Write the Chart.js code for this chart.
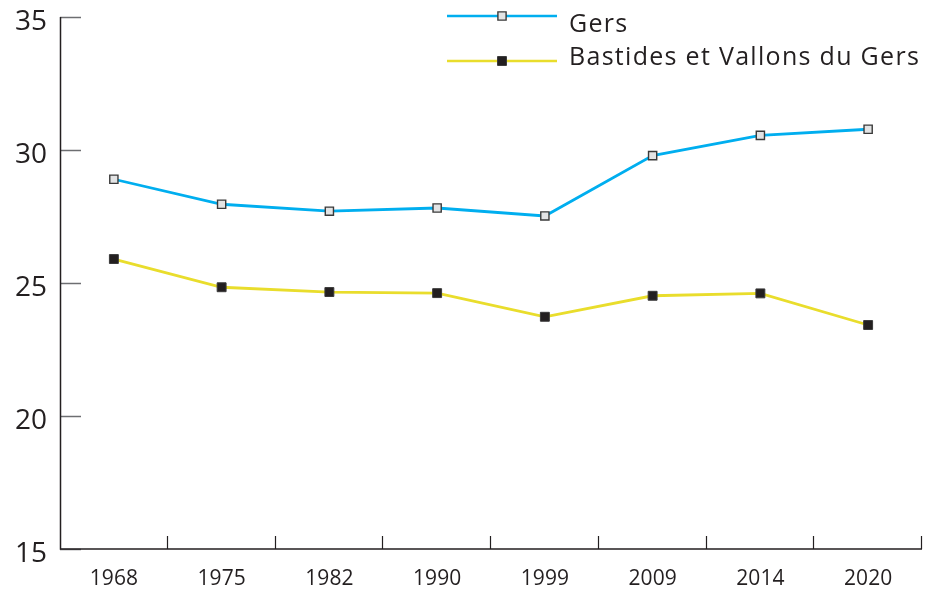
<!DOCTYPE html>
<html>
<head>
<meta charset="utf-8">
<script src="https://cdn.jsdelivr.net/npm/chart.js@4/dist/chart.umd.min.js"></script>
<style>
html,body{margin:0;padding:0;background:#fff;}
#wrap{width:934px;height:592px;position:relative;}
</style>
</head>
<body>
<div id="wrap"><canvas id="c" width="934" height="592"></canvas></div>
<script>
const years = ['1968','1975','1982','1990','1999','2009','2014','2020'];
const gers = [28.9, 27.96, 27.7, 27.82, 27.52, 29.79, 30.55, 30.78];
const bastides = [25.9, 24.84, 24.66, 24.62, 23.73, 24.52, 24.61, 23.42];
const seriesNames = ['Gers', 'Bastides et Vallons du Gers'];
const yTicks = [15, 20, 25, 30, 35];

const FONT = "'Open Sans', 'DejaVu Sans', sans-serif";
const AXIS = '#231f20';
const TICK = '#6d6e71';

const axesPlugin = {
  id: 'axesPlugin',
  beforeDatasetsDraw(chart) {
    const {ctx, chartArea: a, scales: {x, y}} = chart;
    ctx.save();
    ctx.strokeStyle = TICK; ctx.lineWidth = 1.5;
    yTicks.forEach(v => {
      const py = Math.round(y.getPixelForValue(v)) + 0.5;
      ctx.beginPath(); ctx.moveTo(a.left, py); ctx.lineTo(a.left + 21, py); ctx.stroke();
    });
    ctx.strokeStyle = AXIS; ctx.lineWidth = 1.2;
    const half = (x.getPixelForValue(1) - x.getPixelForValue(0)) / 2;
    for (let i = 0; i < years.length; i++) {
      const px = Math.round(x.getPixelForValue(i) + half) - 0.5;
      ctx.beginPath(); ctx.moveTo(px, a.bottom); ctx.lineTo(px, a.bottom - 13); ctx.stroke();
    }
    ctx.strokeStyle = AXIS; ctx.lineWidth = 1.5;
    ctx.beginPath();
    ctx.moveTo(a.left + 0.5, a.top);
    ctx.lineTo(a.left + 0.5, a.bottom);
    ctx.lineTo(a.right, a.bottom);
    ctx.stroke();
    ctx.restore();
  },
  afterDraw(chart) {
    const ctx = chart.ctx;
    ctx.save();
    const rows = [{ly: 16, tb: 32}, {ly: 61, tb: 65}];
    chart.data.datasets.forEach((ds, i) => {
      const r = rows[i];
      ctx.strokeStyle = ds.borderColor; ctx.lineWidth = 2.5;
      ctx.beginPath(); ctx.moveTo(447, r.ly); ctx.lineTo(557, r.ly); ctx.stroke();
      const s = Math.SQRT1_2 * ds.pointRadius;
      ctx.fillStyle = ds.pointBackgroundColor;
      ctx.strokeStyle = ds.pointBorderColor; ctx.lineWidth = ds.pointBorderWidth;
      ctx.beginPath(); ctx.rect(502 - s, r.ly - s, 2 * s, 2 * s); ctx.fill(); ctx.stroke();
      ctx.fillStyle = '#231f20';
      ctx.font = '25px ' + FONT;
      try { ctx.letterSpacing = '1.3px'; } catch (e) {}
      ctx.textBaseline = 'alphabetic'; ctx.textAlign = 'left';
      ctx.fillText(ds.label, 569, r.tb);
    });
    ctx.restore();
  }
};

new Chart(document.getElementById('c'), {
  type: 'line',
  data: {
    labels: years,
    datasets: [
      {
        label: seriesNames[0], data: gers,
        borderColor: '#00aeef', borderWidth: 2.8,
        pointStyle: 'rect', pointRadius: 5.8,
        pointBackgroundColor: '#e3e4e5', pointBorderColor: '#3a3a3a', pointBorderWidth: 1.4,
        tension: 0
      },
      {
        label: seriesNames[1], data: bastides,
        borderColor: '#e9dd2c', borderWidth: 2.8,
        pointStyle: 'rect', pointRadius: 6.3,
        pointBackgroundColor: '#231f20', pointBorderColor: '#3a3a3a', pointBorderWidth: 1,
        tension: 0
      }
    ]
  },
  options: {
    responsive: false, animation: false,
    layout: {padding: {top: 17, right: 12, left: 0, bottom: 0}},
    plugins: {legend: {display: false}, tooltip: {enabled: false}},
    scales: {
      x: {
        type: 'category', offset: true,
        grid: {display: false, drawTicks: false},
        border: {display: false},
        ticks: {color: '#231f20', font: {family: FONT, size: 21}, padding: 17, maxRotation: 0, autoSkip: false},
        afterFit(s) { s.height = 43; s.paddingLeft = 0; s.paddingRight = 0; }
      },
      y: {
        min: 15, max: 35,
        grid: {display: false, drawTicks: false},
        border: {display: false},
        afterBuildTicks(s) { s.ticks = yTicks.map(v => ({value: v})); },
        ticks: {color: '#231f20', font: {family: FONT, size: 28}, padding: 13, labelOffset: 5, autoSkip: false},
        afterFit(s) { s.width = 60; s.paddingTop = 0; s.paddingBottom = 0; }
      }
    }
  },
  plugins: [axesPlugin]
});
</script>
</body>
</html>
